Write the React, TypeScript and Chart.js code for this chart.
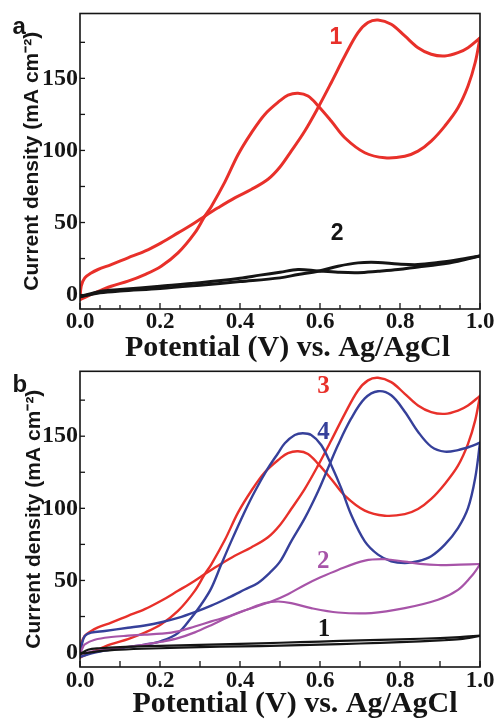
import React, { useEffect, useRef } from 'react';
import { Chart, registerables } from 'chart.js';

Chart.register(...registerables);

// ---------- axes ----------
const xMin = 0;
const xMax = 1;
const yMin = -10;
const yMax = 195;
const yStep = 25;
const xStepA = 0.05;
const xStepB = 0.1;
const xTitleText = 'Potential (V) vs. Ag/AgCl';
const yTitleText = 'Current density (mA cm\u207B\u00B2)';

// ---------- curve: catalyst (red, "1" in a, "3" in b) ----------
const redFwdV = [0, 0.003, 0.012, 0.028, 0.045, 0.078, 0.12, 0.162, 0.203, 0.245, 0.287, 0.312, 0.345, 0.387, 0.428, 0.47, 0.5, 0.528, 0.562, 0.595, 0.628, 0.662, 0.695, 0.72, 0.745, 0.778, 0.812, 0.845, 0.878, 0.912, 0.945, 0.97, 1.0];
const redFwdJ = [-3.5, 5.8, 11.6, 15, 17.4, 20.8, 25.5, 30.1, 35.9, 42.8, 49.8, 54.4, 60.2, 67.1, 72.9, 80, 88.5, 99.5, 113.5, 129.6, 147, 165.5, 181.7, 188.7, 190.5, 187.5, 179.4, 171.3, 166.7, 165.5, 167.8, 171.3, 178];
const redRevV = [1.0, 0.988, 0.97, 0.945, 0.912, 0.878, 0.845, 0.812, 0.762, 0.712, 0.662, 0.628, 0.595, 0.57, 0.545, 0.52, 0.5, 0.462, 0.428, 0.395, 0.362, 0.328, 0.312, 0.287, 0.245, 0.203, 0.162, 0.12, 0.078, 0.037, 0];
const redRevJ = [178, 161, 144.7, 129.6, 116.9, 106.5, 99.5, 96, 94.9, 98.4, 108.8, 120.4, 131, 137.7, 139.6, 138.3, 134.5, 125, 112, 97, 78, 61, 54.4, 42.8, 28.9, 19.7, 13.9, 9.3, 5.8, 1.2, -3.5];

// ---------- curve: panel a "2" (black) ----------
const blackAFwdV = [0, 0.05, 0.1, 0.2, 0.3, 0.4, 0.5, 0.545, 0.595, 0.645, 0.695, 0.745, 0.795, 0.845, 0.895, 0.945, 1.0];
const blackAFwdJ = [-1.5, 1.2, 2.5, 4.2, 6.5, 9, 11.6, 13.9, 16.2, 19.7, 22, 22.3, 21.2, 20.8, 22.2, 24.2, 26.8];
const blackARevV = [1.0, 0.945, 0.895, 0.845, 0.795, 0.745, 0.695, 0.645, 0.595, 0.545, 0.5, 0.45, 0.4, 0.3, 0.2, 0.1, 0.05, 0];
const blackARevJ = [26.8, 23.1, 20.8, 19.2, 17.4, 16.2, 15.2, 15.5, 16.4, 17.4, 15.5, 13.5, 11.3, 8.2, 5.8, 3.5, 2.2, -1.5];

// ---------- curve: panel b "4" (blue) ----------
const blueFwdV = [0, 0.005, 0.012, 0.028, 0.062, 0.12, 0.162, 0.203, 0.245, 0.287, 0.328, 0.37, 0.412, 0.445, 0.478, 0.5, 0.528, 0.562, 0.595, 0.62, 0.645, 0.678, 0.712, 0.745, 0.778, 0.812, 0.845, 0.878, 0.912, 0.945, 0.975, 1.0];
const blueFwdJ = [-3, 6, 11.5, 13.8, 15, 17.2, 18.8, 21, 24, 28, 32.5, 37.9, 43.7, 48.3, 56.3, 63, 77.1, 93.2, 111.7, 127.8, 143.9, 162.3, 176.2, 181.2, 178.4, 167, 153.1, 142.8, 139.3, 140.4, 142.8, 145.5];
const blueRevV = [1.0, 0.988, 0.97, 0.945, 0.912, 0.878, 0.845, 0.812, 0.778, 0.745, 0.712, 0.678, 0.653, 0.628, 0.603, 0.578, 0.557, 0.537, 0.512, 0.495, 0.47, 0.437, 0.412, 0.378, 0.353, 0.328, 0.303, 0.278, 0.245, 0.203, 0.162, 0.12, 0.078, 0.037, 0];
const blueRevJ = [145.5, 121, 100.1, 86.3, 74.8, 66.8, 63.3, 62.1, 63.3, 67.9, 77.1, 95.5, 114, 130.1, 143.9, 150.8, 152, 150.8, 145.1, 138.2, 127.8, 111.7, 97.8, 77.1, 61, 44.5, 33.3, 24, 13.5, 8, 5.5, 3.8, 2, 0, -3];

// ---------- curve: panel b "2" (purple) ----------
const purpleFwdV = [0, 0.006, 0.012, 0.037, 0.078, 0.12, 0.162, 0.203, 0.245, 0.287, 0.328, 0.37, 0.395, 0.44, 0.478, 0.52, 0.562, 0.6, 0.645, 0.712, 0.762, 0.812, 0.85, 0.895, 0.95, 1.0];
const purpleFwdJ = [-1, 3, 5.7, 8.9, 10.8, 11.7, 12.4, 13.1, 14.7, 18.1, 21.6, 25, 27.6, 31.8, 35.4, 40.5, 46.9, 52, 57.3, 63.7, 64.7, 63, 61.5, 60.7, 61, 61.4];
const purpleRevV = [1.0, 0.99, 0.978, 0.945, 0.895, 0.812, 0.728, 0.645, 0.578, 0.528, 0.495, 0.462, 0.42, 0.37, 0.328, 0.287, 0.245, 0.203, 0.162, 0.12, 0.078, 0.037, 0];
const purpleRevJ = [61.4, 57, 52.7, 43.5, 36.6, 30.8, 27.4, 27.8, 30.8, 34.3, 35.4, 34.3, 30, 24.5, 19, 14, 10, 7.5, 5.5, 4, 2.5, 1, -1];

// ---------- curve: panel b "1" (black) ----------
const blackBFwdV = [0, 0.05, 0.1, 0.2, 0.3, 0.4, 0.5, 0.6, 0.7, 0.8, 0.9, 0.95, 1.0];
const blackBFwdJ = [-1, 1, 2, 3, 3.8, 4.3, 4.8, 5.5, 6.3, 7.2, 8.4, 9.3, 11.5];
const blackBRevV = [1.0, 0.95, 0.9, 0.8, 0.7, 0.6, 0.5, 0.4, 0.3, 0.2, 0.1, 0.05, 0.02, 0];
const blackBRevJ = [11.8, 10.7, 10, 9.2, 8.5, 7.6, 6.8, 6, 5.3, 4.6, 3.8, 3, 2, -1];

// ---------- curve labels ----------
const labelsAText = ['1', '2'];
const labelsAV = [0.64, 0.643];
const labelsAJ = [178.3, 42.6];
const labelsBText = ['3', '4', '2', '1'];
const labelsBV = [0.609, 0.609, 0.608, 0.61];
const labelsBJ = [184.2, 152.3, 62.8, 15.8];

const RED = '#e8302a';
const BLUE = '#36409a';
const PURPLE = '#a754a8';
const BLACK = '#151515';

type Curve = { fv: number[]; fj: number[]; rv: number[]; rj: number[]; color: string; width: number };

const zip = (v: number[], j: number[]) => v.map((x, i) => ({ x, y: j[i] }));

function branch(v: number[], j: number[], color: string, width: number) {
  return {
    data: zip(v, j),
    showLine: true,
    borderColor: color,
    backgroundColor: color,
    borderWidth: width,
    pointRadius: 0,
    pointHoverRadius: 0,
    tension: 0.35,
    fill: false,
    borderJoinStyle: 'round',
    borderCapStyle: 'round',
  };
}

type PanelCfg = {
  canvasTop: number;
  canvasHeight: number;
  padTop: number;
  padBottom: number;
  xAxisHeight: number;
  xTickPad: number;
  yTitlePad: number;
  xTitle: string;
  xStep: number;
  xMajorLen: number;
  xMinorLen: number;
  curves: Curve[];
  panelLetter: string;
  letterY: number;
  labelText: string[];
  labelV: number[];
  labelJ: number[];
  labelColors: string[];
  labelFont: string;
};

function makePlugin(p: PanelCfg) {
  return {
    id: 'frameAndText',
    afterDatasetsDraw(chart: any) {
      const { ctx, chartArea } = chart;
      const { left, right, top, bottom } = chartArea;
      const xs = chart.scales.x;
      const ys = chart.scales.y;
      ctx.save();
      ctx.strokeStyle = BLACK;
      ctx.lineWidth = 1.6;
      ctx.strokeRect(left, top, right - left, bottom - top);
      ctx.lineWidth = 1.3;
      xs.ticks.forEach((t: any) => {
        const px = xs.getPixelForValue(t.value);
        const len = t.label !== '' ? p.xMajorLen : p.xMinorLen;
        ctx.beginPath();
        ctx.moveTo(px, bottom);
        ctx.lineTo(px, bottom - len);
        ctx.stroke();
      });
      ys.ticks.forEach((t: any) => {
        const py = ys.getPixelForValue(t.value);
        ctx.beginPath();
        ctx.moveTo(left, py);
        ctx.lineTo(left + 5, py);
        ctx.stroke();
      });
      // curve labels
      ctx.textAlign = 'center';
      ctx.textBaseline = 'middle';
      ctx.font = p.labelFont;
      p.labelText.forEach((txt, i) => {
        ctx.fillStyle = p.labelColors[i];
        ctx.fillText(txt, xs.getPixelForValue(p.labelV[i]), ys.getPixelForValue(p.labelJ[i]));
      });
      // panel letter
      ctx.fillStyle = BLACK;
      ctx.textAlign = 'left';
      ctx.textBaseline = 'alphabetic';
      ctx.font = 'bold 24px "Liberation Sans", Arial, sans-serif';
      ctx.fillText(p.panelLetter, 12.5, p.letterY);
      ctx.restore();
    },
  };
}

function buildConfig(p: PanelCfg): any {
  const datasets: any[] = [];
  p.curves.forEach((c) => {
    datasets.push(branch(c.fv, c.fj, c.color, c.width));
    datasets.push(branch(c.rv, c.rj, c.color, c.width));
  });
  const zeroPad = (s: any) => {
    s.paddingLeft = 0;
    s.paddingRight = 0;
    s.paddingTop = 0;
    s.paddingBottom = 0;
  };
  return {
    type: 'scatter',
    data: { datasets },
    options: {
      animation: false,
      responsive: false,
      devicePixelRatio: 1,
      events: [],
      layout: { padding: { top: p.padTop, right: 15, bottom: p.padBottom, left: 0 } },
      plugins: { legend: { display: false }, tooltip: { enabled: false } },
      scales: {
        x: {
          type: 'linear',
          min: xMin,
          max: xMax,
          grid: { display: false, drawTicks: false },
          border: { display: false },
          ticks: {
            stepSize: p.xStep,
            autoSkip: false,
            maxRotation: 0,
            minRotation: 0,
            padding: p.xTickPad,
            color: BLACK,
            font: { family: '"Liberation Serif", "Times New Roman", serif', weight: 'bold', size: 23, lineHeight: 1 },
            callback: (v: number) => (Math.round(v * 100) % 20 === 0 ? v.toFixed(1) : ''),
          },
          title: {
            display: true,
            text: p.xTitle,
            color: BLACK,
            font: { family: '"Liberation Serif", "Times New Roman", serif', weight: 'bold', size: 30, lineHeight: 1 },
            padding: { top: 0, bottom: 0 },
          },
          afterFit: (s: any) => {
            s.height = p.xAxisHeight;
            zeroPad(s);
          },
        },
        y: {
          type: 'linear',
          min: yMin,
          max: yMax,
          grid: { display: false, drawTicks: false },
          border: { display: false },
          ticks: {
            stepSize: yStep,
            includeBounds: false,
            autoSkip: false,
            padding: 2,
            color: BLACK,
            font: { family: '"Liberation Serif", "Times New Roman", serif', weight: 'bold', size: 24, lineHeight: 1 },
            callback: (v: number) => (v % 50 === 0 ? String(v) : ''),
          },
          title: {
            display: true,
            text: yTitleText,
            color: BLACK,
            font: { family: '"Liberation Sans", Arial, sans-serif', weight: 'bold', size: 21, lineHeight: 1 },
            padding: { top: p.yTitlePad, bottom: 0 },
          },
          afterFit: (s: any) => {
            s.width = 80;
            zeroPad(s);
          },
        },
      },
    },
    plugins: [makePlugin(p)],
  };
}

const panelA: PanelCfg = {
  canvasTop: 0,
  canvasHeight: 370,
  padTop: 13.5,
  padBottom: 6.5,
  xAxisHeight: 54.5,
  xTickPad: 1.5,
  yTitlePad: 22,
  xTitle: '  ' + xTitleText,
  xStep: xStepA,
  xMajorLen: 6,
  xMinorLen: 4,
  curves: [
    { fv: blackAFwdV, fj: blackAFwdJ, rv: blackARevV, rj: blackARevJ, color: BLACK, width: 3 },
    { fv: redFwdV, fj: redFwdJ, rv: redRevV, rj: redRevJ, color: RED, width: 3 },
  ],
  panelLetter: 'a',
  letterY: 34,
  labelText: labelsAText,
  labelV: labelsAV,
  labelJ: labelsAJ,
  labelColors: [RED, BLACK],
  labelFont: 'bold 23px "Liberation Sans", Arial, sans-serif',
};

const panelB: PanelCfg = {
  canvasTop: 360,
  canvasHeight: 360,
  padTop: 11.3,
  padBottom: 1,
  xAxisHeight: 52,
  xTickPad: 2.5,
  yTitlePad: 23.5,
  xTitle: '    ' + xTitleText,
  xStep: xStepB,
  xMajorLen: 6,
  xMinorLen: 6,
  curves: [
    { fv: blackBFwdV, fj: blackBFwdJ, rv: blackBRevV, rj: blackBRevJ, color: BLACK, width: 2.2 },
    { fv: purpleFwdV, fj: purpleFwdJ, rv: purpleRevV, rj: purpleRevJ, color: PURPLE, width: 2.2 },
    { fv: blueFwdV, fj: blueFwdJ, rv: blueRevV, rj: blueRevJ, color: BLUE, width: 2.4 },
    { fv: redFwdV, fj: redFwdJ, rv: redRevV, rj: redRevJ, color: RED, width: 2.4 },
  ],
  panelLetter: 'b',
  letterY: 32,
  labelText: labelsBText,
  labelV: labelsBV,
  labelJ: labelsBJ,
  labelColors: [RED, BLUE, PURPLE, BLACK],
  labelFont: 'bold 25px "Liberation Serif", "Times New Roman", serif',
};

function Panel({ cfg }: { cfg: PanelCfg }) {
  const ref = useRef<HTMLCanvasElement>(null);
  useEffect(() => {
    if (!ref.current) return;
    const chart = new Chart(ref.current, buildConfig(cfg));
    return () => chart.destroy();
  }, [cfg]);
  return (
    <canvas
      ref={ref}
      width={495}
      height={cfg.canvasHeight}
      style={{ position: 'absolute', left: 0, top: cfg.canvasTop, width: 495, height: cfg.canvasHeight, display: 'block' }}
    />
  );
}

export default function App() {
  return (
    <div style={{ position: 'absolute', left: 0, top: 0, width: 495, height: 720, background: '#fff', overflow: 'hidden' }}>
      <Panel cfg={panelA} />
      <Panel cfg={panelB} />
    </div>
  );
}
